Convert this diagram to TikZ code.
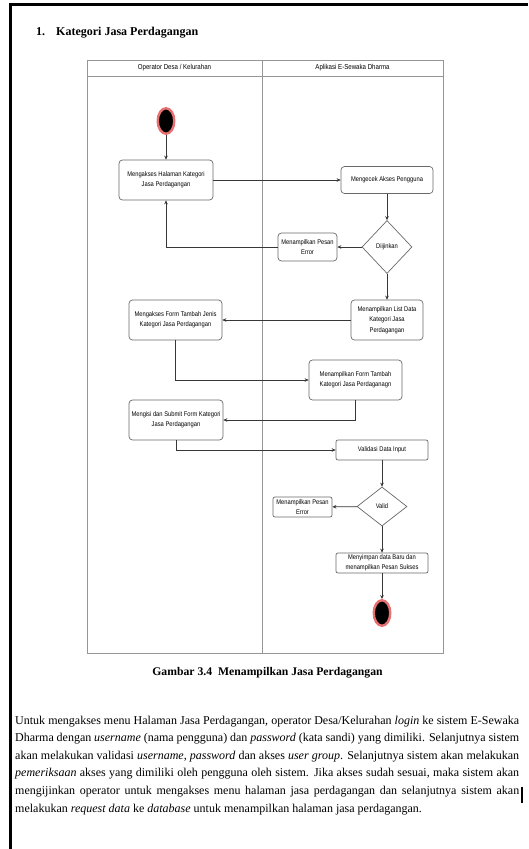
\documentclass[tikz,border=0pt]{standalone}
\usepackage{fontspec}
\setmainfont{Liberation Serif}
\newfontfamily\dfont[FakeStretch=0.85]{Liberation Sans}
\usetikzlibrary{shapes.geometric,arrows.meta}
\definecolor{ringred}{RGB}{232,112,112}
\definecolor{lanegray}{RGB}{150,150,150}
\definecolor{boxgray}{RGB}{105,105,105}
\definecolor{linegray}{RGB}{55,55,55}
\tikzset{
  abox/.style={draw=boxgray, line width=0.7pt, rounded corners=3.5pt, fill=white, align=center, inner sep=0pt, font=\dfont\fontsize{6.8}{10.3}\selectfont},
  dbox/.style={draw=boxgray, diamond, line width=0.7pt, fill=white, inner sep=0pt, font=\dfont\fontsize{6.8}{10.3}\selectfont},
  term/.style={ellipse, fill=black, draw=ringred, line width=2.4pt, inner sep=0pt, minimum width=16.5pt, minimum height=25.5pt},
  arr/.style={draw=linegray, line width=0.7pt, -{Stealth[length=4pt,width=3.6pt]}},
  lane/.style={draw=lanegray, line width=0.8pt},
  lanehead/.style={font=\dfont\fontsize{7.2}{9}\selectfont, inner sep=0pt},
  para/.style={anchor=base west, inner sep=0pt, font=\fontsize{12}{14}\selectfont}
}
\begin{document}
\begin{tikzpicture}[x=1pt,y=-1pt]
\useasboundingbox (0,0) rectangle (528,849);
\fill[white] (0,0) rectangle (528,849);
% page border
\draw[line width=3pt] (9,4.5) -- (528,4.5);
\draw[line width=3pt] (10.5,3) -- (10.5,849);
% heading
\node[anchor=base west, inner sep=0pt, font=\bfseries\fontsize{12}{14}\selectfont] (title) at (36,35) {1.\hspace{11pt}Kategori Jasa Perdagangan};
% swimlanes
\draw[lane] (87,60) rectangle (443,653);
\draw[lane] (87,76) -- (443,76);
\draw[lane] (262,60) -- (262,653);
\node[lanehead] (h1) at (174.5,68) {Operator Desa / Kelurahan};
\node[lanehead] (h2) at (352.5,68) {Aplikasi E-Sewaka Dharma};
% nodes
\node[term] (start) at (166,121) {};
\node[abox, minimum width=94pt, minimum height=40pt] (b1) at (166,180) {Mengakses Halaman Kategori\\Jasa Perdagangan};
\node[abox, minimum width=92pt, minimum height=27pt] (b2) at (387,180) {Mengecek Akses Pengguna};
\node[dbox, minimum width=50pt, minimum height=53pt] (d1) at (387,247) {Diijinkan};
\node[abox, minimum width=59pt, minimum height=28pt] (e1) at (307.5,247) {Menampilkan Pesan\\Error};
\node[abox, minimum width=72pt, minimum height=40pt] (l1) at (387,320) {Menampilkan List Data\\Kategori Jasa\\Perdagangan};
\node[abox, minimum width=93pt, minimum height=40pt] (f1) at (175.5,320) {Mengakses Form Tambah Jenis\\Kategori Jasa Perdagangan};
\node[abox, minimum width=93pt, minimum height=40pt] (m1) at (355.5,380) {Menampilkan Form Tambah\\Kategori Jasa Perdaganagn};
\node[abox, minimum width=94pt, minimum height=40pt] (sub) at (176,420) {Mengisi dan Submit Form Kategori\\Jasa Perdagangan};
\node[abox, minimum width=92pt, minimum height=20pt, rounded corners=2pt] (v1) at (382,450) {Validasi Data Input};
\node[dbox, minimum width=50pt, minimum height=39pt] (d2) at (382,506.5) {Valid};
\node[abox, minimum width=59pt, minimum height=20pt, rounded corners=2pt] (e2) at (302.5,507) {Menampilkan Pesan\\Error};
\node[abox, minimum width=92pt, minimum height=20pt, rounded corners=2pt] (ms) at (382,563) {Menyimpan data Baru dan\\menampilkan Pesan Sukses};
\node[term] (end) at (382,613) {};
% connectors
\draw[arr] (start) -- (b1);
\draw[arr] (b1) -- (b2);
\draw[arr] (b2) -- (d1);
\draw[arr] (d1) -- (e1);
\draw[arr] (e1.west) -| (b1.south);
\draw[arr] (d1) -- (l1);
\draw[arr] (l1) -- (f1);
\draw[arr] (f1.south) |- (m1.west);
\draw[arr] (m1.south) |- (sub.east);
\draw[arr] (sub.south) |- (v1.west);
\draw[arr] (v1) -- (d2);
\draw[arr] (d2) -- (e2);
\draw[arr] (d2) -- (ms);
\draw[arr] (ms) -- (end);
% caption
\node[anchor=base, inner sep=0pt, font=\bfseries\fontsize{11.7}{14}\selectfont] (cap) at (267.5,675) {Gambar 3.4\hspace{6pt}Menampilkan Jasa Perdagangan};
% paragraph
\node[para] (p1) at (15,724) {\hbox to 504pt{Untuk mengakses menu Halaman Jasa Perdagangan, operator Desa/Kelurahan \textit{login} ke sistem E-Sewaka}};
\node[para] (p2) at (15,741.6) {\hbox to 504pt{Dharma dengan \textit{username} (nama pengguna) dan \textit{password} (kata sandi) yang dimiliki. Selanjutnya sistem}};
\node[para] (p3) at (15,759.2) {\hbox to 504pt{akan melakukan validasi \textit{username}, \textit{password} dan akses \textit{user group}. Selanjutnya sistem akan melakukan}};
\node[para] (p4) at (15,776.8) {\hbox to 504pt{\textit{pemeriksaan} akses yang dimiliki oleh pengguna oleh sistem. Jika akses sudah sesuai, maka sistem akan}};
\node[para] (p5) at (15,794.4) {\hbox to 504pt{mengijinkan operator untuk mengakses menu halaman jasa perdagangan dan selanjutnya sistem akan}};
\node[para] (p6) at (15,812) {melakukan \textit{request data} ke \textit{database} untuk menampilkan halaman jasa perdagangan.};
\draw[line width=1.2pt] (522,787) -- (522,803);
\end{tikzpicture}
\end{document}
